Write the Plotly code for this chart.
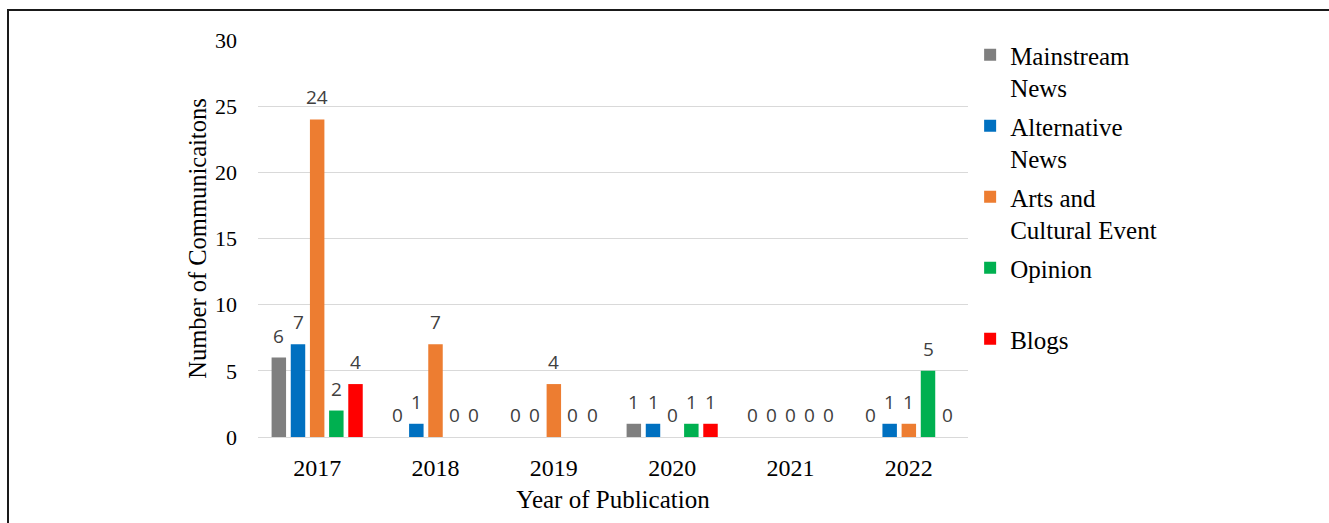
import plotly.graph_objects as go

# Publication counts per year and source type
years = ["2017", "2018", "2019", "2020", "2021", "2022"]
series_names = [
    "Mainstream<br>News",
    "Alternative<br>News",
    "Arts and<br>Cultural Event",
    "Opinion<br> ",
    "Blogs",
]
mainstream_news = [6, 0, 0, 1, 0, 0]
alternative_news = [7, 1, 0, 1, 0, 1]
arts_cultural = [24, 7, 4, 0, 0, 1]
opinion = [2, 0, 0, 1, 0, 5]
blogs = [4, 0, 0, 1, 0, 0]
series_values = [mainstream_news, alternative_news, arts_cultural, opinion, blogs]
series_colors = ["#7f7f7f", "#0070c0", "#ed7d31", "#00b050", "#ff0000"]

y_ticks = [0, 5, 10, 15, 20, 25, 30]

SERIF = "Liberation Serif, Times New Roman, serif"
SANS = "Open Sans, Lato, sans-serif"

W, H = 1329, 523
ML, MR, MT, MB = 258, 361, 40, 86
plot_w = W - ML - MR

fig = go.Figure()
for i, (name, vals, col) in enumerate(zip(series_names, series_values, series_colors)):
    fig.add_trace(go.Bar(
        x=years, y=vals, name=name, marker_color=col,
        marker_line_width=0, legendgroup=f"g{i}",
    ))

# value labels above each bar, offset to the bar's slot within the group
bargap = 0.19
bargroupgap = 0.245
n = len(series_values)
cat_w = plot_w / len(years)
slot = cat_w * (1 - bargap) / n
annotations = []
for i, vals in enumerate(series_values):
    for j, v in enumerate(vals):
        annotations.append(dict(
            x=j, y=v, xref="x", yref="y", text=str(v), showarrow=False,
            xshift=(i - (n - 1) / 2) * slot, yshift=22, yanchor="middle",
            font=dict(family=SANS, size=19, color="#404040"),
        ))

fig.update_layout(
    width=W, height=H,
    margin=dict(l=ML, r=MR, t=MT, b=MB),
    paper_bgcolor="white", plot_bgcolor="white",
    barmode="group", bargap=bargap, bargroupgap=bargroupgap,
    annotations=annotations,
    showlegend=True,
    legend=dict(
        x=1.003, y=1.02, xanchor="left", yanchor="top",
        valign="top", tracegroupgap=3, maxheight=520,
        font=dict(family=SERIF, size=25, color="#000000"),
        bgcolor="rgba(0,0,0,0)",
    ),
    xaxis=dict(
        type="category", categoryorder="array", categoryarray=years,
        range=[-0.5, len(years) - 0.5], autorange=False,
        showgrid=False, showline=False, zeroline=False,
        ticklabelstandoff=14,
        tickfont=dict(family=SERIF, size=24, color="#000000"),
        title=dict(text="Year of Publication", standoff=10,
                   font=dict(family=SERIF, size=25, color="#000000")),
    ),
    yaxis=dict(
        range=[0, 30], tickvals=y_ticks, showgrid=True, gridcolor="#d9d9d9",
        gridwidth=1, zeroline=True, zerolinecolor="#d9d9d9", zerolinewidth=1,
        showline=False, ticklabelstandoff=20,
        tickfont=dict(family=SERIF, size=22, color="#000000"),
        title=dict(text="Number of Communicaitons", standoff=1,
                   font=dict(family=SERIF, size=24.5, color="#000000")),
    ),
    # frame around the figure, running past the right and bottom edges
    shapes=[dict(
        type="rect", xref="paper", yref="paper",
        x0=(8 - ML) / plot_w, x1=2.0,
        y0=-1.0, y1=(H - MB - 10) / (H - MT - MB),
        line=dict(color="#1a1a1a", width=2), fillcolor="rgba(0,0,0,0)", layer="below",
    )],
)

fig.write_html("out.html")
